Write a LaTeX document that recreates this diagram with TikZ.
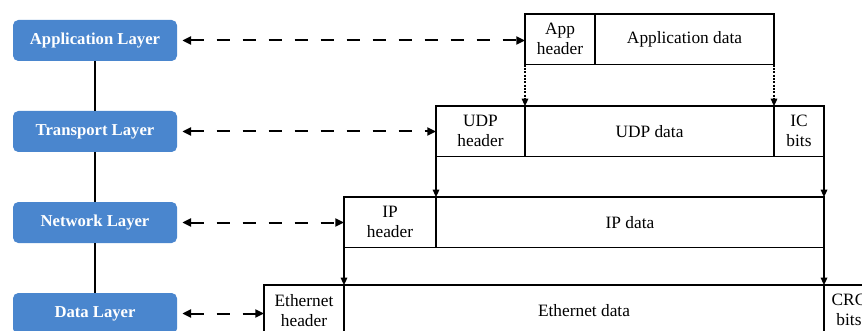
\documentclass[tikz,border=0pt]{standalone}
\usepackage{fontspec}
\setmainfont{Liberation Serif}
\usepackage{tikz}
\usetikzlibrary{
        arrows.meta,
        positioning
    }
\definecolor{layerblue}{RGB}{74,134,206}
\tikzset{>={Triangle[length=5.5pt,width=5pt]}}
\tikzset{
    layer/.style={fill=layerblue,rounded corners=4pt,text=white,
        font=\fontsize{12.5}{15}\selectfont\bfseries,
        minimum width=123pt,minimum height=30.75pt,inner sep=0pt,outer sep=0pt},
    cell/.style={draw,line width=1pt,minimum height=38pt,inner sep=0pt,outer sep=0pt,
        align=center,font=\fontsize{13}{15}\selectfont},
    dasharrow/.style={{Triangle[length=6.5pt,width=6pt]}-{Triangle[length=6.5pt,width=6pt]},
        line width=1.5pt,dash pattern=on 10pt off 9.5pt,shorten <=4pt},
    dotarrow/.style={->,line width=0.8pt,dash pattern=on 1.5pt off 1pt},
    downarrow/.style={->,line width=0.8pt}
}

\begin{document}
\begin{tikzpicture}[x=0.75pt,y=-0.75pt]
            \useasboundingbox (0,0) rectangle (862,331);
            \clip (0,0) rectangle (862,331);
            % layers
            \node[layer,anchor=north west] (app) at (13,20) {Application Layer};
            \node[layer] (tra) [below=37.5pt of app] {Transport Layer};
            \node[layer] (net) [below=37.5pt of tra] {Network Layer};
            \node[layer] (dat) [below=37.5pt of net] {Data Layer};
            \draw[line width=0.8pt] (app) -- (tra) -- (net) -- (dat);
            % application packet
            \node[cell,anchor=north west,minimum width=52.5pt] (apph) at (525,14) {App\\header};
            \node[cell,minimum width=134.25pt] (appd) [right=0pt of apph] {Application data};
            % udp packet
            \node[cell,anchor=north west,minimum width=66.75pt] (udph) at (436,106) {UDP\\header};
            \node[cell,minimum width=186.75pt] (udpd) [right=0pt of udph] {UDP data};
            \node[cell,minimum width=37.5pt] (icb) [right=0pt of udpd] {IC\\bits};
            % ip packet
            \node[cell,anchor=north west,minimum width=69pt] (iph) at (344,197) {IP\\header};
            \node[cell,minimum width=291pt] (ipd) [right=0pt of iph] {IP data};
            % ethernet frame
            \node[cell,anchor=north west,minimum width=60pt] (ethh) at (264,285) {Ethernet\\header};
            \node[cell,minimum width=360pt] (ethd) [right=0pt of ethh] {Ethernet data};
            \node[cell,minimum width=37.5pt] (crc) [right=0pt of ethd] {CRC\\bits};
            \path[dasharrow]
                (app.east)  edge  (app.east -| apph.west)
                (tra.east)  edge  (tra.east -| udph.west)
                (net.east)  edge  (net.east -| iph.west)
                (dat.east)  edge  (dat.east -| ethh.west)
                ;
            \path[dotarrow]
                (apph.south west)  edge  (udpd.north west)
                (appd.south east)  edge  (udpd.north east)
                ;
            \path[downarrow]
                (udph.south west)  edge  (iph.north east)
                (icb.south east)   edge  (ipd.north east)
                (iph.south west)   edge  (ethh.north east)
                (ipd.south east)   edge  (ethd.north east)
                ;
        \end{tikzpicture}
\end{document}
